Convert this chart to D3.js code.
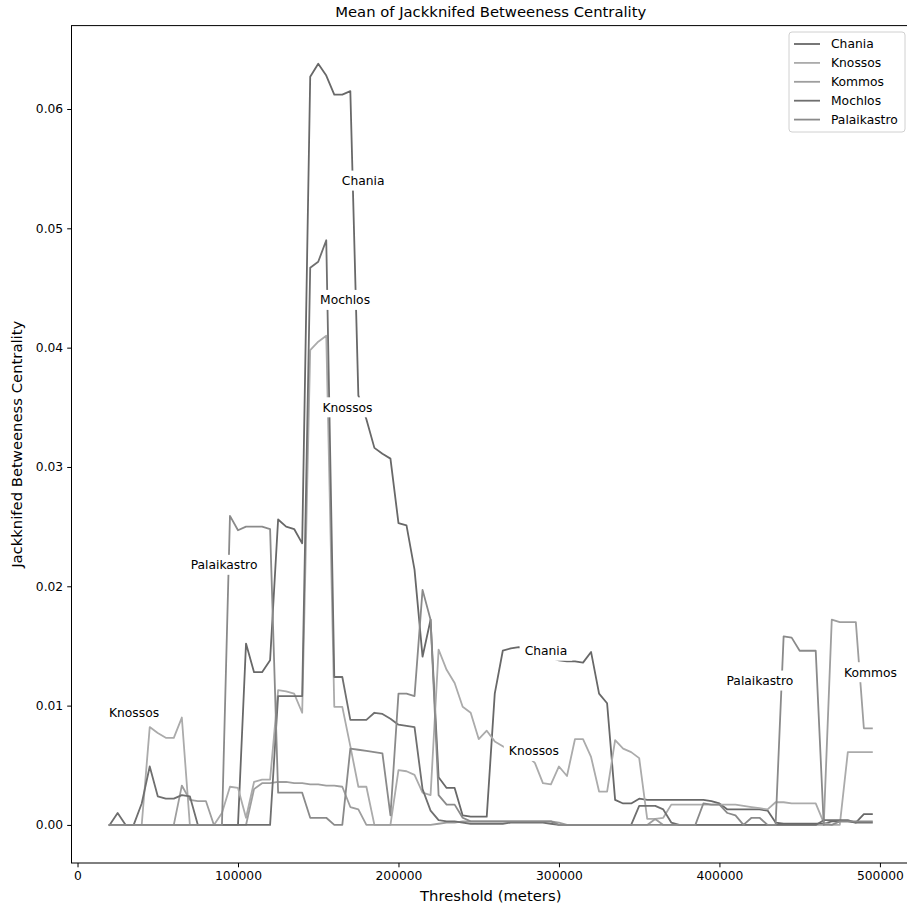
<html>
<head>
    <meta charset="utf-8">
    <title>Mean of Jackknifed Betweeness Centrality</title>
    <style>
        body { margin: 0; background: #fff; }
        text { font-family: "DejaVu Sans", sans-serif; }
    </style>
</head>
<body>
<div id="chart"></div>
<script src="https://cdn.jsdelivr.net/npm/d3@7"></script>
<script type="text/javascript">
    // thresholds in meters, one sample every 5 km
    var thresholds = [
        20000, 25000, 30000, 35000, 40000, 45000, 50000, 55000, 60000, 65000,
        70000, 75000, 80000, 85000, 90000, 95000, 100000, 105000, 110000, 115000,
        120000, 125000, 130000, 135000, 140000, 145000, 150000, 155000, 160000, 165000,
        170000, 175000, 180000, 185000, 190000, 195000, 200000, 205000, 210000, 215000,
        220000, 225000, 230000, 235000, 240000, 245000, 250000, 255000, 260000, 265000,
        270000, 275000, 280000, 285000, 290000, 295000, 300000, 305000, 310000, 315000,
        320000, 325000, 330000, 335000, 340000, 345000, 350000, 355000, 360000, 365000,
        370000, 375000, 380000, 385000, 390000, 395000, 400000, 405000, 410000, 415000,
        420000, 425000, 430000, 435000, 440000, 445000, 450000, 455000, 460000, 465000,
        470000, 475000, 480000, 485000, 490000, 495000
    ];

    var chania = [
        0, 0, 0, 0, 0, 0, 0, 0, 0, 0,
        0, 0, 0, 0, 0, 0, 0, 0.0152, 0.0128, 0.0128,
        0.0138, 0.0256, 0.0250, 0.0248, 0.0236, 0.0627, 0.0638, 0.0628, 0.0612, 0.0612,
        0.0615, 0.0360, 0.0340, 0.0316, 0.0311, 0.0307, 0.0253, 0.0251, 0.0214, 0.0141,
        0.0172, 0.0040, 0.0031, 0.0031, 0.0008, 0.0007, 0.0007, 0.0007, 0.0110, 0.0146,
        0.0148, 0.0149, 0.0148, 0.0146, 0.0143, 0.0140, 0.0138, 0.0137, 0.0137, 0.0136,
        0.0145, 0.0110, 0.0102, 0.0021, 0.0018, 0.0018, 0.0022, 0.0021, 0.0021, 0.0021,
        0.0021, 0.0021, 0.0021, 0.0021, 0.0021, 0.0020, 0.0018, 0.0013, 0.0013, 0.0013,
        0.0013, 0.0013, 0.0012, 0.0002, 0.0001, 0.0001, 0.0001, 0.0001, 0.0001, 0.0001,
        0.0003, 0.0003, 0.0003, 0.0002, 0.0009, 0.0009
    ];

    var knossos = [
        0, 0, 0, 0, 0, 0.0082, 0.0077, 0.0073, 0.0073, 0.0090,
        0, 0, 0, 0, 0.0010, 0.0032, 0.0031, 0.0006, 0.0036, 0.0038,
        0.0038, 0.0113, 0.0112, 0.0110, 0.0094, 0.0398, 0.0405, 0.0410, 0.0099, 0.0099,
        0.0066, 0.0032, 0.0032, 0, 0, 0, 0.0046, 0.0045, 0.0042, 0.0027,
        0.0025, 0.0147, 0.0130, 0.0119, 0.0099, 0.0094, 0.0072, 0.0079, 0.0070, 0.0066,
        0.0062, 0.0060, 0.0058, 0.0052, 0.0035, 0.0034, 0.0049, 0.0041, 0.0072, 0.0072,
        0.0057, 0.0028, 0.0028, 0.0071, 0.0064, 0.0061, 0.0056, 0.0005, 0.0005, 0.0006,
        0.0017, 0.0017, 0.0017, 0.0017, 0.0017, 0.0017, 0.0017, 0.0017, 0.0017, 0.0016,
        0.0015, 0.0014, 0.0013, 0.0019, 0.0019, 0.0018, 0.0018, 0.0018, 0.0018, 0.0002,
        0, 0, 0.0061, 0.0061, 0.0061, 0.0061
    ];

    var kommos = [
        0, 0, 0, 0, 0, 0, 0, 0, 0, 0.0033,
        0.0021, 0.0020, 0.0020, 0, 0, 0, 0, 0, 0.0030, 0.0035,
        0.0035, 0.0036, 0.0036, 0.0035, 0.0035, 0.0034, 0.0034, 0.0033, 0.0033, 0.0032,
        0.0015, 0.0013, 0, 0, 0, 0, 0, 0, 0, 0,
        0, 0.0001, 0.0002, 0.0002, 0.0003, 0.0003, 0.0003, 0.0003, 0.0003, 0.0003,
        0.0003, 0.0003, 0.0003, 0.0003, 0.0003, 0.0003, 0.0002, 0, 0, 0,
        0, 0, 0, 0, 0, 0, 0, 0, 0.0005, 0,
        0, 0, 0, 0, 0, 0, 0, 0, 0, 0,
        0, 0, 0, 0, 0, 0, 0, 0, 0, 0,
        0.0172, 0.0170, 0.0170, 0.0170, 0.0081, 0.0081
    ];

    var mochlos = [
        0, 0.0010, 0, 0, 0.0018, 0.0049, 0.0024, 0.0022, 0.0022, 0.0025,
        0.0024, 0, 0, 0, 0, 0, 0, 0, 0, 0,
        0, 0.0108, 0.0108, 0.0108, 0.0108, 0.0467, 0.0472, 0.0490, 0.0124, 0.0124,
        0.0088, 0.0088, 0.0088, 0.0094, 0.0093, 0.0089, 0.0084, 0.0083, 0.0082, 0.0030,
        0.0012, 0.0004, 0.0003, 0.0003, 0.0002, 0.0001, 0.0001, 0.0001, 0.0001, 0.0001,
        0.0002, 0.0002, 0.0002, 0.0002, 0.0002, 0.0001, 0, 0, 0, 0,
        0, 0, 0, 0, 0, 0, 0.0016, 0.0016, 0.0016, 0.0013,
        0.0002, 0, 0, 0, 0, 0, 0, 0, 0, 0,
        0, 0, 0, 0, 0, 0, 0, 0, 0, 0.0004,
        0.0004, 0.0004, 0.0004, 0.0002, 0.0002, 0.0002
    ];

    var palaikastro = [
        0, 0, 0, 0, 0, 0, 0, 0, 0, 0,
        0, 0, 0, 0, 0, 0.0259, 0.0247, 0.0250, 0.0250, 0.0250,
        0.0248, 0.0027, 0.0027, 0.0027, 0.0027, 0.0006, 0.0006, 0.0006, 0, 0,
        0.0064, 0.0063, 0.0062, 0.0061, 0.0060, 0.0008, 0.0110, 0.0110, 0.0108, 0.0197,
        0.0172, 0.0025, 0.0017, 0.0017, 0.0006, 0.0003, 0.0003, 0.0003, 0.0003, 0.0003,
        0.0003, 0.0003, 0.0003, 0.0003, 0.0003, 0.0003, 0, 0, 0, 0,
        0, 0, 0, 0, 0, 0, 0, 0, 0, 0,
        0, 0, 0, 0, 0.0018, 0.0017, 0.0017, 0.0010, 0.0008, 0,
        0.0006, 0.0006, 0, 0, 0.0158, 0.0157, 0.0146, 0.0146, 0.0146, 0,
        0, 0.0003, 0.0003, 0.0003, 0.0003, 0.0003
    ];

    var siteNames = ["Chania", "Knossos", "Kommos", "Mochlos", "Palaikastro"];
    var siteValues = [chania, knossos, kommos, mochlos, palaikastro];
    var siteColors = ["#686868", "#ababab", "#9e9e9e", "#6f6f6f", "#8a8a8a"];

    var xTicks = [0, 100000, 200000, 300000, 400000, 500000];
    var yTicks = [0, 0.01, 0.02, 0.03, 0.04, 0.05, 0.06];

    // inline labels sitting on the lines (threshold, value)
    var inlineLabels = [
        {name: "Chania", x: 178000, y: 0.0540},
        {name: "Mochlos", x: 166700, y: 0.0440},
        {name: "Knossos", x: 168200, y: 0.0350},
        {name: "Palaikastro", x: 91300, y: 0.0218},
        {name: "Knossos", x: 35200, y: 0.0094},
        {name: "Chania", x: 291900, y: 0.0146},
        {name: "Knossos", x: 284400, y: 0.0062},
        {name: "Palaikastro", x: 425200, y: 0.0121},
        {name: "Kommos", x: 494100, y: 0.0128}
    ];

    var svgWidth = 907, svgHeight = 906;
    // plot box; the right spine falls just past the picture edge
    var axLeft = 71.5, axRight = 910, axTop = 25.6, axBottom = 863;
    var tickFont = 12.3, labelFont = 14.8;

    var svg = d3.select("#chart").append("svg")
        .attr("width", svgWidth)
        .attr("height", svgHeight)
        .style("background", "#fff");

    var x = d3.scaleLinear().domain([-3750, 518750]).range([axLeft, axRight]);
    var y = d3.scaleLinear().domain([-0.00319, 0.06699]).range([axBottom, axTop]);

    var clip = svg.append("defs").append("clipPath").attr("id", "plotclip");
    clip.append("rect")
        .attr("x", axLeft).attr("y", axTop)
        .attr("width", axRight - axLeft).attr("height", axBottom - axTop);

    var line = d3.line()
        .x(function (d, i) { return x(thresholds[i]); })
        .y(function (d) { return y(d); });

    var plot = svg.append("g").attr("clip-path", "url(#plotclip)");

    plot.selectAll(".site")
        .data(siteValues).enter()
        .append("path")
        .attr("class", "site")
        .attr("d", line)
        .attr("fill", "none")
        .attr("stroke", function (d, i) { return siteColors[i]; })
        .attr("stroke-width", 1.8)
        .attr("stroke-linejoin", "round")
        .attr("stroke-linecap", "square");

    // labels with a white box that hides the line beneath
    var lab = svg.append("g").selectAll("g")
        .data(inlineLabels).enter()
        .append("g")
        .attr("transform", function (d) { return "translate(" + x(d.x) + "," + y(d.y) + ")"; });

    lab.append("text")
        .attr("text-anchor", "middle")
        .attr("dy", "0.35em")
        .attr("font-size", tickFont)
        .attr("fill", "#000")
        .text(function (d) { return d.name; });

    lab.each(function () {
        var g = d3.select(this);
        var bb = g.select("text").node().getBBox();
        g.insert("rect", "text")
            .attr("x", bb.x - 5)
            .attr("y", -10)
            .attr("width", bb.width + 10)
            .attr("height", 20)
            .attr("fill", "#fff");
    });

    // axes
    var xAxis = svg.append("g")
        .attr("transform", "translate(0," + axBottom + ")")
        .call(d3.axisBottom(x).tickValues(xTicks).tickFormat(d3.format("d"))
            .tickSize(4.3).tickSizeOuter(0).tickPadding(4));

    var yAxis = svg.append("g")
        .attr("transform", "translate(" + axLeft + ",0)")
        .call(d3.axisLeft(y).tickValues(yTicks).tickFormat(d3.format(".2f"))
            .tickSize(4.3).tickSizeOuter(0).tickPadding(4));

    [xAxis, yAxis].forEach(function (a) {
        a.select(".domain").remove();
        a.selectAll("text").attr("font-size", tickFont).attr("fill", "#000")
            .attr("font-family", "DejaVu Sans");
        a.selectAll("line").attr("stroke", "#000").attr("stroke-width", 1);
    });

    svg.append("rect")
        .attr("x", axLeft).attr("y", axTop)
        .attr("width", axRight - axLeft).attr("height", axBottom - axTop)
        .attr("fill", "none")
        .attr("stroke", "#000")
        .attr("stroke-width", 1);

    svg.append("text")
        .attr("x", (axLeft + axRight) / 2)
        .attr("y", 17)
        .attr("text-anchor", "middle")
        .attr("font-size", labelFont)
        .text("Mean of Jackknifed Betweeness Centrality");

    svg.append("text")
        .attr("x", (axLeft + axRight) / 2)
        .attr("y", 901)
        .attr("text-anchor", "middle")
        .attr("font-size", labelFont)
        .text("Threshold (meters)");

    svg.append("text")
        .attr("transform", "translate(22," + (axTop + axBottom) / 2 + ") rotate(-90)")
        .attr("text-anchor", "middle")
        .attr("font-size", labelFont)
        .text("Jackknifed Betweeness Centrality");

    // legend, upper right
    var legend = svg.append("g");
    legend.append("rect")
        .attr("x", 789).attr("y", 32)
        .attr("width", 116).attr("height", 100)
        .attr("rx", 3)
        .attr("fill", "#fff").attr("fill-opacity", 0.8)
        .attr("stroke", "#d0d0d0");

    var item = legend.selectAll(".item")
        .data(siteNames).enter()
        .append("g")
        .attr("class", "item")
        .attr("transform", function (d, i) { return "translate(0," + (44 + i * 18.9) + ")"; });

    item.append("line")
        .attr("x1", 794).attr("x2", 820)
        .attr("stroke", function (d, i) { return siteColors[i]; })
        .attr("stroke-width", 1.8);

    item.append("text")
        .attr("x", 831)
        .attr("dy", "0.35em")
        .attr("font-size", tickFont)
        .text(function (d) { return d; });
</script>
</body>
</html>
